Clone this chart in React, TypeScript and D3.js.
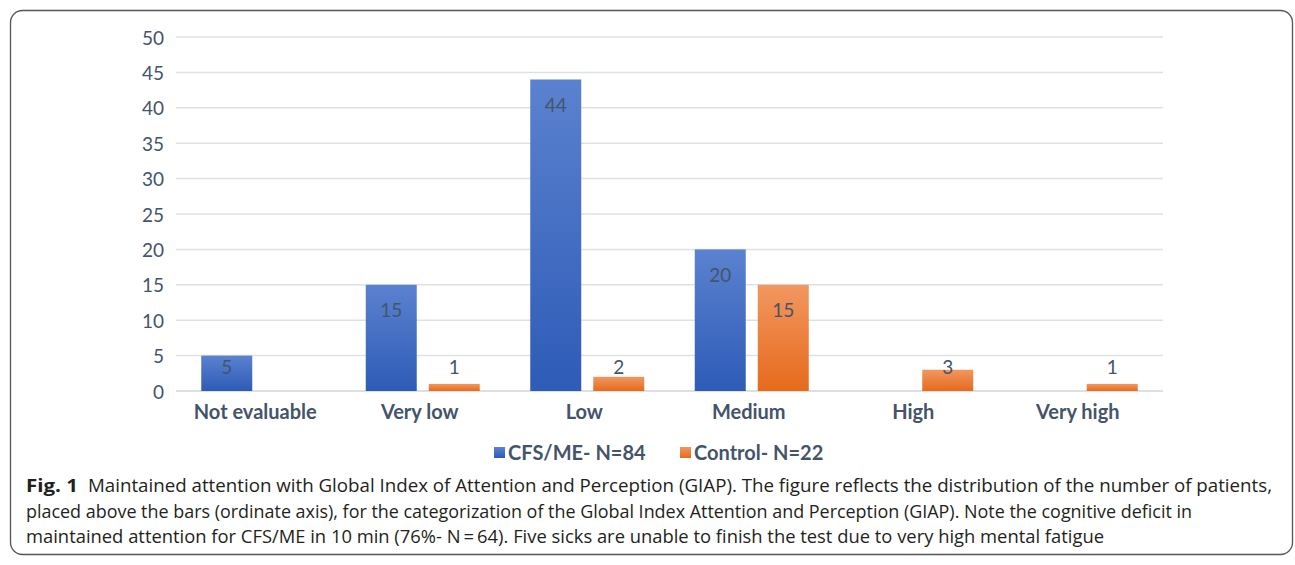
import * as d3 from "d3";

const categories = ["Not evaluable", "Very low", "Low", "Medium", "High", "Very high"];
const seriesNames = ["CFS/ME- N=84", "Control- N=22"];
const cfsValues: (number | null)[] = [5, 15, 44, 20, null, null];
const controlValues: (number | null)[] = [null, 1, 2, 15, 3, 1];
const yTicks = [0, 5, 10, 15, 20, 25, 30, 35, 40, 45, 50];

const captionLines = [
  "Maintained attention with Global Index of Attention and Perception (GIAP). The figure reflects the distribution of the number of patients,",
  "placed above the bars (ordinate axis), for the categorization of the Global Index Attention and Perception (GIAP). Note the cognitive deficit in",
  "maintained attention for CFS/ME in 10 min (76%- N\u2009=\u200964). Five sicks are unable to finish the test due to very high mental fatigue",
];

/** svg dimensions */
const width = 1295;
const height = 565;
const plot = { left: 176, right: 1163, top: 37, bottom: 391 };

const textColor = "#44546a";
const chartFont = "Lato, 'Open Sans', sans-serif";
const captionFont = "'Open Sans', 'Noto Sans', sans-serif";

const App = () => {
  const x = d3.scaleBand().domain(categories).range([plot.left, plot.right]);
  const y = d3.scaleLinear().domain([0, 50]).range([plot.bottom, plot.top]);
  const barW = 51;
  const gap = 12;
  const pad = (x.bandwidth() - 2 * barW - gap) / 2;

  const series = [
    { name: seriesNames[0], values: cfsValues, fill: "url(#blueGrad)", offset: 0 },
    { name: seriesNames[1], values: controlValues, fill: "url(#orangeGrad)", offset: barW + gap },
  ];

  return (
    <svg
      width={width}
      height={height}
      viewBox={[0, 0, width, height].join(" ")}
      style={{ position: "absolute", left: 0, top: 0, background: "#fff" }}
    >
      <defs>
        <linearGradient id="blueGrad" x1="0" y1="0" x2="0" y2="1">
          <stop offset="0" stopColor="#5b82d0" />
          <stop offset="1" stopColor="#2e5bb6" />
        </linearGradient>
        <linearGradient id="orangeGrad" x1="0" y1="0" x2="0" y2="1">
          <stop offset="0" stopColor="#f29760" />
          <stop offset="1" stopColor="#e66a1c" />
        </linearGradient>
      </defs>

      {/* frame */}
      <rect x={10.5} y={10.5} width={1282} height={544} rx={12} fill="#fff" stroke="#555" strokeWidth={1.3} />

      {/* gridlines and y ticks */}
      {yTicks.map((t) => (
        <g key={t}>
          <line
            x1={plot.left}
            x2={plot.right}
            y1={y(t)}
            y2={y(t)}
            stroke={t === 0 ? "#d0d4da" : "#dde1e6"}
            strokeWidth={1.5}
          />
          <text
            x={164}
            y={y(t)}
            textAnchor="end"
            dominantBaseline="central"
            fill={textColor}
            style={{ fontFamily: chartFont, fontSize: "19px" }}
          >
            {t}
          </text>
        </g>
      ))}

      {/* bars and labels */}
      {series.map((s) =>
        categories.map((c, i) => {
          const v = s.values[i];
          if (v == null) return null;
          const bx = (x(c) ?? 0) + pad + s.offset;
          const top = y(v);
          const ly = Math.min(top + 25, y(0) - 25);
          return (
            <g key={s.name + c}>
              <rect x={bx} y={top} width={barW} height={y(0) - top} fill={s.fill} />
              <text
                x={bx + barW / 2}
                y={ly}
                textAnchor="middle"
                dominantBaseline="central"
                fill={textColor}
                style={{ fontFamily: chartFont, fontSize: "19px" }}
              >
                {v}
              </text>
            </g>
          );
        })
      )}

      {/* category labels */}
      {categories.map((c) => (
        <text
          key={c}
          x={(x(c) ?? 0) + x.bandwidth() / 2 - 3}
          y={411}
          textAnchor="middle"
          dominantBaseline="central"
          fill={textColor}
          style={{ fontFamily: chartFont, fontSize: "20px", fontWeight: 700 }}
        >
          {c}
        </text>
      ))}

      {/* legend */}
      {series.map((s, i) => {
        const lx = i === 0 ? 494 : 680;
        return (
          <g key={s.name}>
            <rect x={lx} y={447} width={11} height={11} fill={s.fill} />
            <text
              x={lx + 14}
              y={452}
              dominantBaseline="central"
              fill={textColor}
              style={{ fontFamily: chartFont, fontSize: "20px", fontWeight: 700 }}
            >
              {s.name}
            </text>
          </g>
        );
      })}

      {/* caption */}
      <text
        x={26}
        y={492}
        fill="#231f20"
        textLength={52}
        lengthAdjust="spacingAndGlyphs"
        style={{ fontFamily: captionFont, fontSize: "18px", fontWeight: 700 }}
      >
        Fig. 1
      </text>
      {captionLines.map((line, i) => {
        const lx = i === 0 ? 88 : 26;
        const ends = [1272, 1192, 1104];
        return (
          <text
            key={i}
            x={lx}
            y={492 + i * 25.5}
            fill="#231f20"
            textLength={ends[i] - lx}
            lengthAdjust="spacingAndGlyphs"
            style={{ fontFamily: captionFont, fontSize: "18px" }}
          >
            {line}
          </text>
        );
      })}
    </svg>
  );
};

export default App;
